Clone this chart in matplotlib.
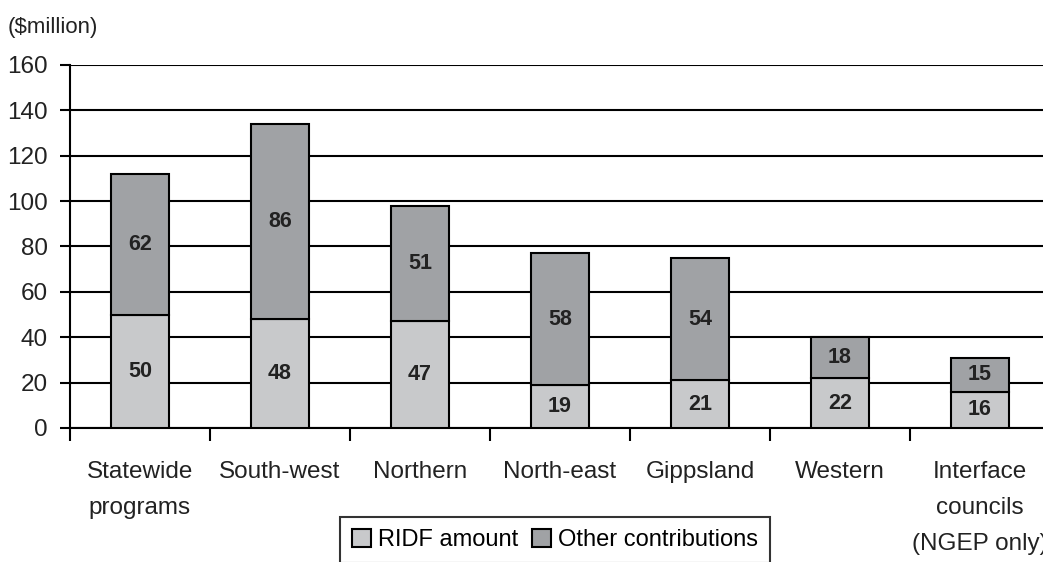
import numpy as np
import matplotlib.pyplot as plt
from matplotlib.patches import Patch

categories = ['Statewide\nprograms', 'South-west', 'Northern', 'North-east',
              'Gippsland', 'Western', 'Interface\ncouncils\n(NGEP only)']
ridf = [50, 48, 47, 19, 21, 22, 16]
other = [62, 86, 51, 58, 54, 18, 15]
yticks = [0, 20, 40, 60, 80, 100, 120, 140, 160]

plt.rcParams['font.family'] = ['Liberation Sans', 'DejaVu Sans']

light = '#c8c9cb'
dark = '#a0a2a5'

fig = plt.figure(figsize=(10.43, 5.62), dpi=100)
ax = fig.add_axes([70/1043, 1 - 428/562, 980/1043, 363/562])

x = np.arange(len(categories))
b1 = ax.bar(x, ridf, width=0.41, color=light, edgecolor='black', linewidth=1.5, zorder=3)
b2 = ax.bar(x, other, width=0.41, bottom=ridf, color=dark, edgecolor='black', linewidth=1.5, zorder=3)

for i in range(len(x)):
    ax.text(x[i], ridf[i] / 2, str(ridf[i]), ha='center', va='center',
            fontsize=15.5, fontweight='bold', color='#222222', zorder=4)
    ax.text(x[i], ridf[i] + other[i] / 2, str(other[i]), ha='center', va='center',
            fontsize=15.5, fontweight='bold', color='#222222', zorder=4)

ax.set_xlim(-0.5, len(x) - 0.5)
ax.set_ylim(0, 160)
ax.set_yticks(yticks)
ax.yaxis.grid(True, color='black', linewidth=1.5, zorder=0)
ax.set_axisbelow(True)

ax.set_xticks(x)
ax.set_xticklabels(categories, fontsize=17.5, color='#222222', linespacing=1.8)
ax.set_xticks(np.arange(-0.5, len(x)), minor=True)
ax.tick_params(axis='x', which='major', length=0, pad=24)
ax.tick_params(axis='x', which='minor', length=9, width=1.5, direction='out')
ax.tick_params(axis='y', labelsize=17.5, length=7, width=1.5, pad=9, labelcolor='#222222')

for s in ['top', 'right']:
    ax.spines[s].set_visible(False)
for s in ['left', 'bottom']:
    ax.spines[s].set_linewidth(1.5)

fig.text(8/1043, 1 - 28/562, '($million)', fontsize=16, va='center', ha='left', color='#222222')

handles = [Patch(facecolor=light, edgecolor='black', linewidth=1.5),
           Patch(facecolor=dark, edgecolor='black', linewidth=1.5)]
leg = fig.legend(handles, ['RIDF amount', 'Other contributions'], loc='upper left',
                 bbox_to_anchor=(340/1043, 1 - 517/562), ncol=2, fontsize=17,
                 frameon=True, fancybox=False, handlelength=0.8, handleheight=0.8,
                 handletextpad=0.3, columnspacing=0.6, borderpad=0.5, borderaxespad=0)
leg.get_frame().set_edgecolor('black')
leg.get_frame().set_linewidth(1.5)

fig.savefig('out.png', dpi=100)
